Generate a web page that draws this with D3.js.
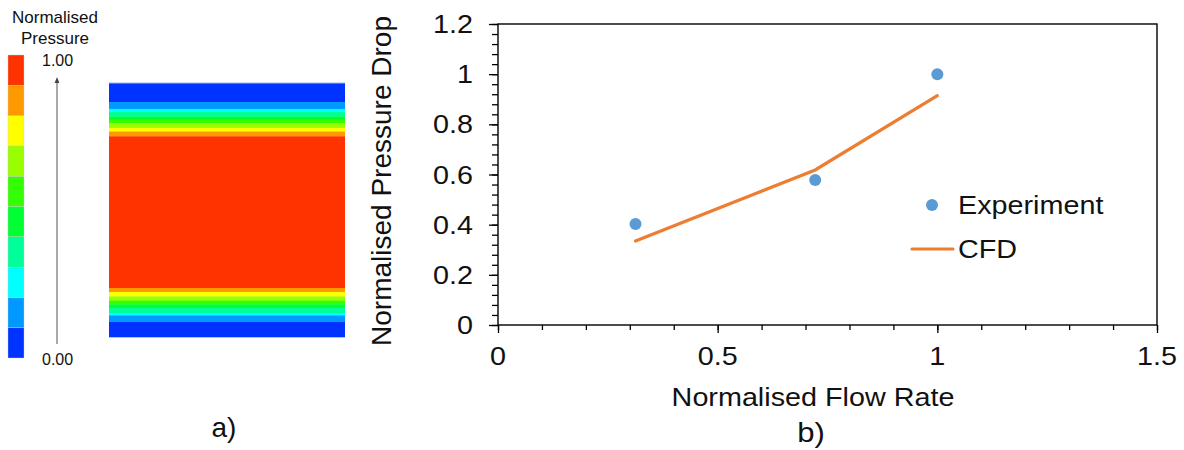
<!DOCTYPE html>
<html>
<head>
<meta charset="utf-8">
<script src="https://cdn.jsdelivr.net/npm/d3@7"></script>
<style>
  html, body { margin: 0; padding: 0; background: #fff; }
  svg { display: block; font-family: "Liberation Sans", Arial, sans-serif; }
</style>
</head>
<body>
<div id="chart"></div>
<script>
// data ---------------------------------------------------------------------------------------
const flowRate = [0.313, 0.722, 1.0];
const experiment = [0.403, 0.578, 1.0];
const cfd = [0.335, 0.618, 0.914];
const xTicks = [0, 0.5, 1, 1.5];
const yTicks = [0, 0.2, 0.4, 0.6, 0.8, 1, 1.2];
// contour levels (0.00 -> 1.00) and the bands across the channel height (0 = top, 1 = bottom)
const levelColors = ['#0033ff', '#0099ff', '#00ffff', '#00ff99', '#00ff33',
  '#33ff00', '#99ff00', '#ffff00', '#ff9900', '#ff3300'];
const bandLevels = [0, 1, 2, 3, 4, 5, 6, 7, 8, 9, 8, 7, 6, 5, 4, 3, 2, 1, 0];
const bandEdges = [0, 0.075, 0.102, 0.112, 0.132, 0.145, 0.158, 0.177, 0.191, 0.210,
  0.807, 0.823, 0.840, 0.857, 0.871, 0.886, 0.906, 0.915, 0.941, 1];
const legendLabels = ['Experiment', 'CFD'];

const W = 1184, H = 450;
const svg = d3.select('#chart').append('svg')
  .attr('width', W)
  .attr('height', H);

// wide text helper (the chart text in the picture is horizontally stretched)
const sx = 1.15;
const wideText = (g, x, y, str, anchor) => g.append('text')
  .attr('transform', 'translate(' + x + ',' + y + ') scale(' + sx + ',1)')
  .attr('text-anchor', anchor)
  .attr('font-size', 25)
  .attr('fill', '#111')
  .text(str);

// a) colour legend ------------------------------------------------------------------------
const left = svg.append('g');
left.selectAll('.cb-title')
  .data(['Normalised', 'Pressure'])
  .enter()
  .append('text')
  .attr('x', 55)
  .attr('y', (d, i) => 23 + i * 21)
  .attr('text-anchor', 'middle')
  .attr('font-size', 17)
  .attr('fill', '#111')
  .text(d => d);

const cbScale = d3.scaleBand()
  .domain(d3.range(levelColors.length).reverse())
  .range([55, 358]);
left.selectAll('.cb')
  .data(d3.range(levelColors.length))
  .enter()
  .append('rect')
  .attr('x', 8)
  .attr('y', d => cbScale(d))
  .attr('width', 16)
  .attr('height', cbScale.bandwidth())
  .attr('fill', d => levelColors[d])
  .attr('stroke', '#c8c8c8')
  .attr('stroke-width', 0.4);

left.append('text').attr('x', 42).attr('y', 66).attr('font-size', 16).attr('fill', '#111').text('1.00');
left.append('text').attr('x', 42).attr('y', 365).attr('font-size', 16).attr('fill', '#111').text('0.00');

svg.append('defs').append('marker')
  .attr('id', 'arr')
  .attr('viewBox', '0 0 10 10')
  .attr('refX', 5).attr('refY', 5)
  .attr('markerWidth', 6).attr('markerHeight', 6)
  .attr('orient', 'auto')
  .append('path')
  .attr('d', 'M0,1 L10,5 L0,9 z')
  .attr('fill', '#444');
left.append('line')
  .attr('x1', 57).attr('x2', 57)
  .attr('y1', 344).attr('y2', 80)
  .attr('stroke', '#555')
  .attr('stroke-width', 1)
  .attr('marker-end', 'url(#arr)');

// contour bands
const depth = d3.scaleLinear().domain([0, 1]).range([83, 337]);
left.selectAll('.band')
  .data(bandLevels)
  .enter()
  .append('rect')
  .attr('x', 109)
  .attr('width', 236)
  .attr('y', (d, i) => depth(bandEdges[i]))
  .attr('height', (d, i) => depth(bandEdges[i + 1]) - depth(bandEdges[i]) + 0.3)
  .attr('fill', d => levelColors[d]);
left.append('line')
  .attr('x1', 109).attr('x2', 345)
  .attr('y1', depth(0)).attr('y2', depth(0))
  .attr('stroke', '#9fb3f5')
  .attr('stroke-width', 1);

left.append('text')
  .attr('x', 224).attr('y', 437)
  .attr('text-anchor', 'middle')
  .attr('font-size', 28)
  .attr('fill', '#111')
  .text('a)');

// b) chart ---------------------------------------------------------------------------------
const x = d3.scaleLinear().domain([0, 1.5]).range([498, 1157]);
const y = d3.scaleLinear().domain([0, 1.2]).range([325, 24]);
const chart = svg.append('g');

// minor ticks
chart.append('g')
  .attr('transform', 'translate(0,' + y(0) + ')')
  .call(d3.axisBottom(x).tickValues(d3.range(0, 16).map(i => i / 10)).tickSize(5).tickFormat(''))
  .call(g => g.select('.domain').remove());
chart.append('g')
  .attr('transform', 'translate(' + x(0) + ',0)')
  .call(d3.axisLeft(y).tickValues(d3.range(0, 31).map(i => i * 0.04)).tickSize(6).tickFormat(''))
  .call(g => g.select('.domain').remove());
// major ticks
chart.append('g')
  .attr('transform', 'translate(0,' + y(0) + ')')
  .call(d3.axisBottom(x).tickValues(xTicks).tickSize(8).tickFormat(''))
  .call(g => g.select('.domain').remove());
chart.append('g')
  .attr('transform', 'translate(' + x(0) + ',0)')
  .call(d3.axisLeft(y).tickValues(yTicks).tickSize(9).tickFormat(''))
  .call(g => g.select('.domain').remove());
chart.selectAll('.tick line').attr('stroke', '#000').attr('stroke-width', 1.3);

// frame
chart.append('rect')
  .attr('x', x(0)).attr('y', y(1.2))
  .attr('width', x(1.5) - x(0)).attr('height', y(0) - y(1.2))
  .attr('fill', 'none')
  .attr('stroke', '#000')
  .attr('stroke-width', 1.4);

// tick labels
xTicks.forEach(v => wideText(chart, x(v), 365, d3.format('~g')(v), 'middle'));
yTicks.forEach(v => wideText(chart, 473, y(v) + 9, d3.format('~g')(v), 'end'));

// axis titles
wideText(chart, 813, 406, 'Normalised Flow Rate', 'middle');
chart.append('text')
  .attr('transform', 'translate(391,181) rotate(-90)')
  .attr('text-anchor', 'middle')
  .attr('font-size', 28)
  .attr('fill', '#111')
  .text('Normalised Pressure Drop');

// CFD line
chart.append('path')
  .datum(flowRate.map((v, i) => [v, cfd[i]]))
  .attr('fill', 'none')
  .attr('stroke', '#ed7d31')
  .attr('stroke-width', 3.2)
  .attr('stroke-linecap', 'round')
  .attr('d', d3.line().x(d => x(d[0])).y(d => y(d[1])));

// experiment points
chart.selectAll('.pt')
  .data(flowRate.map((v, i) => [v, experiment[i]]))
  .enter()
  .append('circle')
  .attr('cx', d => x(d[0]))
  .attr('cy', d => y(d[1]))
  .attr('r', 6)
  .attr('fill', '#5b9bd5');

// legend
const legend = chart.append('g');
legend.append('circle').attr('cx', 932).attr('cy', 205).attr('r', 6).attr('fill', '#5b9bd5');
legend.append('line')
  .attr('x1', 912).attr('x2', 953).attr('y1', 249).attr('y2', 249)
  .attr('stroke', '#ed7d31').attr('stroke-width', 3.2).attr('stroke-linecap', 'round');
legendLabels.forEach((d, i) => wideText(legend, 958, 214 + i * 44, d, 'start'));

wideText(chart, 811, 442, 'b)', 'middle').attr('font-size', 27);
</script>
</body>
</html>
